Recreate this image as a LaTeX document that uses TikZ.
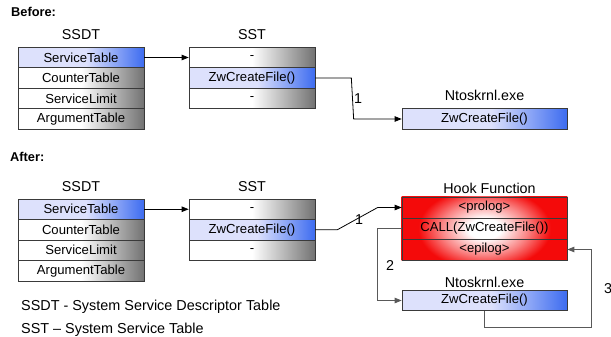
\documentclass[tikz,border=0pt]{standalone}
\usepackage{fontspec}
\setmainfont{Liberation Sans}
\usetikzlibrary{arrows.meta,calc,backgrounds}

\definecolor{lav}{HTML}{DDE1FC}
\definecolor{blu}{HTML}{3D6CF0}
\definecolor{grayend}{HTML}{727272}
\definecolor{hookred}{HTML}{F40A0A}
\definecolor{edge}{HTML}{3A3A3A}

% cell fills: pale-to-blue, white-to-grey, and a white glow inside red
\pgfdeclarehorizontalshading{bluerow}{100bp}{color(0bp)=(lav); color(25bp)=(lav); color(52bp)=(lav); color(75bp)=(blu); color(100bp)=(blu)}
\pgfdeclarehorizontalshading{grayrow}{100bp}{color(0bp)=(white); color(25bp)=(white); color(50bp)=(white); color(75bp)=(grayend); color(100bp)=(grayend)}
\pgfdeclareradialshading{hookglow}{\pgfpoint{0bp}{0bp}}{color(0bp)=(white); color(5bp)=(white); color(13bp)=(hookred!50); color(20bp)=(hookred); color(50bp)=(hookred)}

\tikzset{
  cell/.style={draw=edge, line width=0.7pt, minimum height=20.5pt, inner sep=0pt,
               font=\fontsize{13.1}{14}\selectfont},
  bluecell/.style={cell, shade, shading=bluerow},
  graycell/.style={cell, shade, shading=grayrow},
  redcell/.style={cell, minimum height=21pt},
  narrow/.style={minimum width=126pt},
  wide/.style={minimum width=165pt},
  ttl/.style={font=\fontsize{14.3}{16}\selectfont, inner sep=0pt},
  hdr/.style={font=\bfseries\fontsize{12.8}{14}\selectfont, inner sep=0pt, anchor=west},
  legend/.style={font=\fontsize{14.4}{16}\selectfont, inner sep=0pt, anchor=west},
  num/.style={font=\fontsize{14.3}{16}\selectfont, inner sep=0pt},
  arr/.style={draw=black, line width=0.8pt, -{Triangle[length=7pt,width=5.5pt]}},
  garr/.style={arr, draw=black!65}
}

\begin{document}
\begin{tikzpicture}[x=1pt,y=-1pt]
\useasboundingbox (0,0) rectangle (611,337);

% ---------------- Before ----------------
\node[hdr] (before) at (11,12) {Before:};

\node[ttl] (b-ssdt) at (81,35) {SSDT};
\node[bluecell,narrow] (b-st) at (81,57.5)  {ServiceTable};
\node[graycell,narrow] (b-ct) at (81,78)    {CounterTable};
\node[graycell,narrow] (b-sl) at (81,98.5)  {ServiceLimit};
\node[graycell,narrow] (b-at) at (81,119)   {ArgumentTable};

\node[ttl] (b-sst) at (252,35) {SST};
\node[graycell,narrow] (b-s1) at (252,57.5) {-};
\node[bluecell,narrow] (b-s2) at (252,78)   {ZwCreateFile()};
\node[graycell,narrow] (b-s3) at (252,98.5) {-};

\node[ttl] (b-nt-t) at (484.5,95) {Ntoskrnl.exe};
\node[bluecell,wide] (b-nt) at (484.5,119) {ZwCreateFile()};

\draw[arr] (b-st.east) -- (b-s1.west);
\draw[arr] (b-s2.east) -- ++(36,0) -- ($(b-nt.west)+(-48,0)$) -- (b-nt.west);
\node[num] (b-n1) at (358,99) {1};

% ---------------- After ----------------
\node[hdr] (after) at (10,157) {After:};

\node[ttl] (a-ssdt) at (81,187) {SSDT};
\node[bluecell,narrow] (a-st) at (81,209.25) {ServiceTable};
\node[graycell,narrow] (a-ct) at (81,229.75) {CounterTable};
\node[graycell,narrow] (a-sl) at (81,250.25) {ServiceLimit};
\node[graycell,narrow] (a-at) at (81,270.75) {ArgumentTable};

\node[ttl] (a-sst) at (252,187) {SST};
\node[graycell,narrow] (a-s1) at (252,209.25) {-};
\node[bluecell,narrow] (a-s2) at (252,229.75) {ZwCreateFile()};
\node[graycell,narrow] (a-s3) at (252,250.25) {-};

\node[ttl] (hook-t) at (489.5,188) {Hook Function};
\node[redcell,wide] (h1) at (484.5,207.5) {<prolog>};
\node[redcell,wide] (h2) at (484.5,228.5) {CALL(ZwCreateFile())};
\node[redcell,wide] (h3) at (484.5,249.5) {<epilog>};
\begin{scope}[on background layer]
  % the glow is taller than the box, so it fades more slowly upward and downward
  \clip (h1.north west) rectangle (h3.south east);
  \shade[shading=hookglow] ($(h1.north west)+(0,-19)$) rectangle ($(h3.south east)+(0,19)$);
\end{scope}

\node[ttl] (a-nt-t) at (484.5,282) {Ntoskrnl.exe};
\node[bluecell,wide] (a-nt) at (484.5,300.5) {ZwCreateFile()};

\draw[arr] (a-st.east) -- (a-s1.west);
\draw[arr] (a-s2.east) -- ++(22,0) -- ($(h1.west)+(-24,0)$) -- (h1.west);
\node[num] (a-n1) at (359,220) {1};

\draw[garr] (h2.west) -- ++(-24,0) |- (a-nt.west);
\node[num] (a-n2) at (390,266) {2};

\draw[garr] (a-nt.south) -- ++(0,16) -| ($(h3.east)+(24,0)$) -- (h3.east);
\node[num] (a-n3) at (608,289) {3};

% ---------------- Legend ----------------
\node[legend] (leg1) at (21,307) {SSDT - System Service Descriptor Table};
\node[legend] (leg2) at (21,330) {SST – System Service Table};
\end{tikzpicture}
\end{document}
